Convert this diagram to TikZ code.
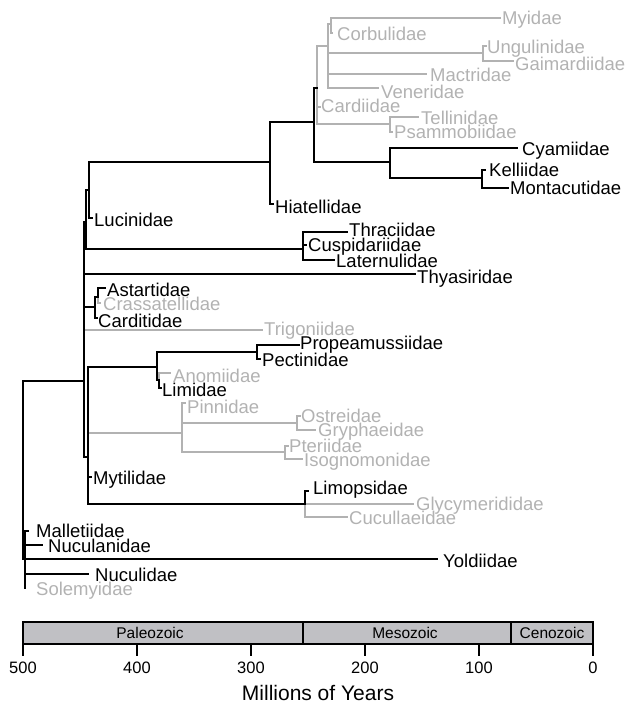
\documentclass[tikz,border=0pt]{standalone}
\usepackage{fontspec}
\setmainfont{Liberation Sans}
\definecolor{lg}{RGB}{178,178,178}
\definecolor{barfill}{RGB}{192,192,196}
\begin{document}
\begin{tikzpicture}[x=1pt,y=-1pt,
  br/.style={line width=1.9pt, black, line cap=rect},
  gbr/.style={line width=1.8pt, lg, line cap=rect},
  lab/.style={anchor=west, inner sep=0pt, text height=13.2pt, text depth=0pt, font=\fontsize{18.5}{20}\selectfont},
  glab/.style={lab, text=lg},
  era/.style={inner sep=0pt, font=\fontsize{15.5}{17}\selectfont},
  ticklab/.style={inner sep=0pt, font=\fontsize{16.5}{18}\selectfont},
  axtitle/.style={inner sep=0pt, font=\fontsize{21}{24}\selectfont}
]
\useasboundingbox (0,0) rectangle (632,707);
% ---------- internal nodes and tips ----------
\coordinate (nMC) at (331,24); \coordinate (tMy) at (500,18); \coordinate (tCo) at (332,33);
\coordinate (nV) at (328,46); \coordinate (nUG) at (483,53); \coordinate (tUn) at (486,46);
\coordinate (tGa) at (513,61); \coordinate (tMa) at (426,74); \coordinate (tVe) at (378,88);
\coordinate (nC) at (317,88); \coordinate (tCa) at (320,107); \coordinate (nTP) at (390,124);
\coordinate (tTe) at (418,117); \coordinate (tPs) at (392,132);
\coordinate (nCy) at (390,162); \coordinate (tCy) at (517,148); \coordinate (nKM) at (482,178);
\coordinate (tKe) at (485,170); \coordinate (tMo) at (508,188);
\coordinate (nH2) at (314,122); \coordinate (nH1) at (270,162); \coordinate (tHi) at (273,204);
\coordinate (nL) at (89,190); \coordinate (tLu) at (92,218);
\coordinate (nT2) at (86,222); \coordinate (nTh) at (303,249); \coordinate (tTh) at (347,232);
\coordinate (tCu) at (306,245); \coordinate (tLa) at (334,260);
\coordinate (N3) at (84,381); \coordinate (tTy) at (415,274); \coordinate (nAs) at (95,307);
\coordinate (nAC) at (98,297); \coordinate (tAs) at (105,288); \coordinate (tCr) at (100,303);
\coordinate (tCd) at (97,318); \coordinate (tTr) at (262,330);
\coordinate (nPt) at (88,457); \coordinate (nPe) at (157,367); \coordinate (nPP) at (257,352);
\coordinate (tPr) at (299,345); \coordinate (tPc) at (260,359); \coordinate (nAL) at (159,380);
\coordinate (tAn) at (170,373); \coordinate (tLi) at (161,388);
\coordinate (nPi) at (182,433); \coordinate (tPi) at (185,403); \coordinate (nOG) at (297,423);
\coordinate (tOs) at (300,416); \coordinate (tGr) at (315,430); \coordinate (nPI) at (285,452);
\coordinate (tPt) at (288,446); \coordinate (tIs) at (302,459);
\coordinate (tMt) at (91,477);
\coordinate (nLi) at (305,504); \coordinate (tLm) at (308,491); \coordinate (tGl) at (413,504);
\coordinate (tCc) at (347,517);
\coordinate (nR) at (23,500); \coordinate (nPr) at (25,559); \coordinate (tMl) at (28,531);
\coordinate (tNl) at (42,545); \coordinate (tYo) at (437,559); \coordinate (tNu) at (88,574);
\coordinate (tSo) at (25,588);
% ---------- gray branches ----------
\draw[gbr] (nMC) |- (tMy); \draw[gbr] (nMC) |- (tCo);
\draw[gbr] (nV) |- (nMC); \draw[gbr] (nV) |- (nUG); \draw[gbr] (nV) |- (tMa); \draw[gbr] (nV) |- (tVe);
\draw[gbr] (nUG) |- (tUn); \draw[gbr] (nUG) |- (tGa);
\draw[gbr] (nC) |- (nV); \draw[gbr] (nC) |- (tCa); \draw[gbr] (nC) |- (nTP);
\draw[gbr] (nTP) |- (tTe); \draw[gbr] (nTP) |- (tPs);
\draw[gbr] (nAC) |- (tCr);
\draw[gbr] (N3) |- (tTr);
\draw[gbr] (nAL) |- (tAn);
\draw[gbr] (nPt) |- (nPi);
\draw[gbr] (nPi) |- (tPi); \draw[gbr] (nPi) |- (nOG); \draw[gbr] (nPi) |- (nPI);
\draw[gbr] (nOG) |- (tOs); \draw[gbr] (nOG) |- (tGr);
\draw[gbr] (nPI) |- (tPt); \draw[gbr] (nPI) |- (tIs);
\draw[gbr] (nLi) |- (tGl); \draw[gbr] (nLi) |- (tCc);
% ---------- black branches ----------
\draw[br] (nH2) |- (nC); \draw[br] (nH2) |- (nCy);
\draw[br] (nCy) |- (tCy); \draw[br] (nCy) |- (nKM);
\draw[br] (nKM) |- (tKe); \draw[br] (nKM) |- (tMo);
\draw[br] (nH1) |- (nH2); \draw[br] (nH1) |- (tHi);
\draw[br] (nL) |- (nH1); \draw[br] (nL) |- (tLu);
\draw[br] (nT2) |- (nL); \draw[br] (nT2) |- (nTh);
\draw[br] (nTh) |- (tTh); \draw[br] (nTh) |- (tCu); \draw[br] (nTh) |- (tLa);
\draw[br] (N3) |- (nT2); \draw[br] (N3) |- (tTy); \draw[br] (N3) |- (nAs); \draw[br] (N3) |- (nPt);
\draw[br] (nAs) |- (nAC); \draw[br] (nAs) |- (tCd); \draw[br] (nAC) |- (tAs);
\draw[br] (nPt) |- (nPe); \draw[br] (nPt) |- (tMt); \draw[br] (nPt) |- (nLi);
\draw[br] (nPe) |- (nPP); \draw[br] (nPe) |- (nAL);
\draw[br] (nPP) |- (tPr); \draw[br] (nPP) |- (tPc);
\draw[br] (nAL) |- (tLi);
\draw[br] (nLi) |- (tLm);
\draw[br] (nR) |- (N3); \draw[br] (nR) |- (nPr);
\draw[br] (nPr) |- (tMl); \draw[br] (nPr) |- (tNl); \draw[br] (nPr) |- (tYo);
\draw[br] (nPr) |- (tNu); \draw[br] (nPr) |- (tSo);
% ---------- labels ----------
\node[glab] (lMy) at (502,18) {Myidae};
\node[glab] (lCo) at (337,34) {Corbulidae};
\node[glab] (lUn) at (487,47) {Ungulinidae};
\node[glab] (lGa) at (515,64) {Gaimardiidae};
\node[glab] (lMa) at (430,75) {Mactridae};
\node[glab] (lVe) at (381,92) {Veneridae};
\node[glab] (lCa) at (321,106) {Cardiidae};
\node[glab] (lTe) at (421,118) {Tellinidae};
\node[glab] (lPs) at (394,132) {Psammobiidae};
\node[lab] (lCy) at (522,149) {Cyamiidae};
\node[lab] (lKe) at (489,170) {Kelliidae};
\node[lab] (lMo) at (510,188) {Montacutidae};
\node[lab] (lHi) at (275,207) {Hiatellidae};
\node[lab] (lLu) at (94,220) {Lucinidae};
\node[lab] (lTh) at (349,230) {Thraciidae};
\node[lab] (lCu) at (308,245) {Cuspidariidae};
\node[lab] (lLa) at (336,261) {Laternulidae};
\node[lab] (lTy) at (417,277) {Thyasiridae};
\node[lab] (lAs) at (107,290) {Astartidae};
\node[glab] (lCr) at (103,304) {Crassatellidae};
\node[lab] (lCd) at (98,321) {Carditidae};
\node[glab] (lTr) at (264,329) {Trigoniidae};
\node[lab] (lPr) at (300,343) {Propeamussiidae};
\node[lab] (lPc) at (262,360) {Pectinidae};
\node[glab] (lAn) at (173,376) {Anomiidae};
\node[lab] (lLi) at (162,390) {Limidae};
\node[glab] (lPi) at (187,407) {Pinnidae};
\node[glab] (lOs) at (301,416) {Ostreidae};
\node[glab] (lGr) at (318,430) {Gryphaeidae};
\node[glab] (lPt) at (289,446) {Pteriidae};
\node[glab] (lIs) at (304,460) {Isognomonidae};
\node[lab] (lMt) at (93,478) {Mytilidae};
\node[lab] (lLm) at (313,488) {Limopsidae};
\node[glab] (lGl) at (416,504) {Glycymerididae};
\node[glab] (lCc) at (349,518) {Cucullaeidae};
\node[lab] (lMl) at (36,531) {Malletiidae};
\node[lab] (lNl) at (48,546) {Nuculanidae};
\node[lab] (lYo) at (443,561) {Yoldiidae};
\node[lab] (lNu) at (95,575) {Nuculidae};
\node[glab] (lSo) at (36,589) {Solemyidae};
% ---------- time axis ----------
\draw[fill=barfill, line width=1.5pt] (23,622) rectangle (593,644);
\draw[line width=1.5pt] (303,622) -- (303,644);
\draw[line width=1.5pt] (511,622) -- (511,644);
\node[era] (ePa) at (150,633) {Paleozoic};
\node[era] (eMe) at (405,633) {Mesozoic};
\node[era] (eCe) at (552,633) {Cenozoic};
\foreach \xx/\lbl in {23/500,137/400,251/300,365/200,479/100,593/0}{
  \draw[line width=1.5pt] (\xx,644) -- (\xx,656);
  \node[ticklab] (tk\lbl) at (\xx,668) {\lbl};
}
\node[axtitle] (mya) at (318,693) {Millions of Years};
\end{tikzpicture}
\end{document}
